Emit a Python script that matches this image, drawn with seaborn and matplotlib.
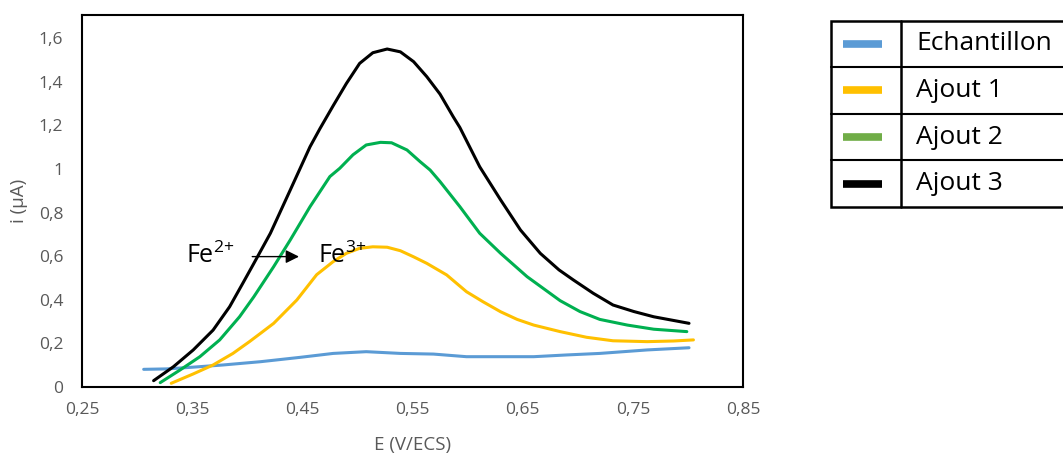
import matplotlib
matplotlib.use("Agg")
import matplotlib.pyplot as plt
import pandas as pd
import seaborn as sns
from matplotlib.ticker import FuncFormatter, MultipleLocator

# values (E in V/ECS, i in µA)
e_echantillon = [0.306, 0.327, 0.348, 0.378, 0.412, 0.448, 0.478, 0.508, 0.539, 0.569,
                 0.599, 0.630, 0.660, 0.690, 0.720, 0.763, 0.801]
i_echantillon = [0.081, 0.083, 0.090, 0.101, 0.116, 0.136, 0.154, 0.162, 0.154, 0.151,
                 0.139, 0.139, 0.139, 0.147, 0.154, 0.170, 0.180]

e_ajout1 = [0.331, 0.351, 0.369, 0.387, 0.402, 0.412, 0.424, 0.445, 0.463, 0.478, 0.490,
            0.502, 0.514, 0.527, 0.539, 0.551, 0.563, 0.581, 0.599, 0.614, 0.630, 0.645,
            0.660, 0.684, 0.708, 0.732, 0.763, 0.787, 0.805]
i_ajout1 = [0.017, 0.060, 0.101, 0.154, 0.208, 0.246, 0.292, 0.399, 0.515, 0.575, 0.613,
            0.636, 0.643, 0.641, 0.625, 0.597, 0.567, 0.514, 0.437, 0.391, 0.345, 0.310,
            0.284, 0.254, 0.228, 0.212, 0.208, 0.211, 0.216]

e_ajout2 = [0.321, 0.339, 0.357, 0.375, 0.393, 0.406, 0.424, 0.439, 0.457, 0.475, 0.484,
            0.496, 0.508, 0.521, 0.531, 0.545, 0.557, 0.566, 0.575, 0.593, 0.611, 0.630,
            0.654, 0.684, 0.702, 0.720, 0.745, 0.769, 0.799]
i_ajout2 = [0.020, 0.078, 0.139, 0.216, 0.322, 0.414, 0.552, 0.674, 0.827, 0.965, 1.003,
            1.065, 1.110, 1.122, 1.120, 1.087, 1.033, 0.995, 0.942, 0.827, 0.705, 0.613,
            0.506, 0.396, 0.346, 0.310, 0.284, 0.265, 0.254]

e_ajout3 = [0.315, 0.333, 0.351, 0.369, 0.384, 0.396, 0.406, 0.421, 0.439, 0.457, 0.466,
            0.478, 0.490, 0.502, 0.514, 0.527, 0.539, 0.551, 0.563, 0.575, 0.587, 0.593,
            0.611, 0.630, 0.648, 0.666, 0.683, 0.696, 0.714, 0.732, 0.751, 0.769, 0.801]
i_ajout3 = [0.029, 0.093, 0.170, 0.261, 0.368, 0.476, 0.567, 0.705, 0.903, 1.102, 1.185,
            1.290, 1.392, 1.484, 1.533, 1.550, 1.537, 1.492, 1.423, 1.343, 1.239, 1.190,
            1.010, 0.858, 0.720, 0.613, 0.537, 0.491, 0.430, 0.376, 0.346, 0.322, 0.292]

series_names = ["Echantillon", "Ajout 1", "Ajout 2", "Ajout 3"]
line_colors = ["#5B9BD5", "#FFC000", "#00B050", "#000000"]
legend_colors = ["#5B9BD5", "#FFC000", "#70AD47", "#000000"]

sns.set_style("white")
plt.rcParams["font.family"] = ["Open Sans", "DejaVu Sans"]
plt.rcParams["text.color"] = "black"
plt.rcParams["mathtext.fontset"] = "custom"
plt.rcParams["mathtext.rm"] = "Open Sans"
plt.rcParams["mathtext.it"] = "Open Sans"
plt.rcParams["mathtext.bf"] = "Open Sans"

frames = []
for name, e, i in zip(series_names,
                      [e_echantillon, e_ajout1, e_ajout2, e_ajout3],
                      [i_echantillon, i_ajout1, i_ajout2, i_ajout3]):
    frames.append(pd.DataFrame({"E": e, "i": i, "serie": name}))
df = pd.concat(frames, ignore_index=True)

W, H = 1063, 455
fig = plt.figure(figsize=(W / 100, H / 100), dpi=100)
ax = fig.add_axes([82 / W, (H - 387) / H, (743 - 82) / W, (387 - 15) / H])

sns.lineplot(data=df, x="E", y="i", hue="serie", hue_order=series_names,
             palette=line_colors, sort=False, estimator=None, legend=False,
             linewidth=2.2, ax=ax)
for ln in ax.lines:
    ln.set_solid_joinstyle("round")

comma = FuncFormatter(lambda v, _: f"{round(v, 2):g}".replace(".", ","))
ax.set_xlim(0.25, 0.85)
ax.set_ylim(0, 1.706)
ax.xaxis.set_major_locator(MultipleLocator(0.1, offset=0.05))
ax.yaxis.set_major_locator(MultipleLocator(0.2))
ax.xaxis.set_major_formatter(comma)
ax.yaxis.set_major_formatter(comma)
ax.tick_params(length=0, labelsize=12.5, labelcolor="#595959")
ax.tick_params(axis="x", pad=11)
ax.tick_params(axis="y", pad=13.5)
for s in ax.spines.values():
    s.set_color("black")
    s.set_linewidth(1.5)

ax.set_xlabel("E (V/ECS)", fontsize=13.5, color="#595959", labelpad=13)
ax.set_ylabel("i (µA)", fontsize=13.5, color="#595959", labelpad=8)

# Fe2+ -> Fe3+ annotation
ax.text(0.344, 0.569, "Fe$^{2{+}}$", fontsize=18, color="black", va="baseline", ha="left")
ax.annotate("", xy=(0.4495, 0.598), xytext=(0.402, 0.598),
            arrowprops=dict(arrowstyle="-|>", color="black", lw=1, mutation_scale=20))
ax.text(0.4646, 0.569, "Fe$^{3{+}}$", fontsize=18, color="black", va="baseline", ha="left")

# table-style legend, in pixel units of the figure
lax = fig.add_axes([0, 0, 1, 1], facecolor="none")
lax.set_xlim(0, W)
lax.set_ylim(H, 0)
lax.axis("off")
top, row_h, left, div = 20.5, 46.6, 830.5, 901
bottom = top + 4 * row_h
lax.plot([1070, left, left, 1070], [top, top, bottom, bottom], color="black", lw=1.8,
         solid_joinstyle="miter")
lax.plot([div, div], [top, bottom], color="black", lw=1.8)
for k in range(1, 4):
    lax.plot([left, 1070], [top + k * row_h] * 2, color="black", lw=1.5)
for k, (name, col) in enumerate(zip(series_names, legend_colors)):
    yc = top + (k + 0.5) * row_h
    lax.plot([843, 882], [yc, yc], color=col, lw=5.5, solid_capstyle="butt")
    lax.text(916, yc, name, fontsize=19, color="black", va="center", ha="left")

fig.savefig("out.png", dpi=100)
